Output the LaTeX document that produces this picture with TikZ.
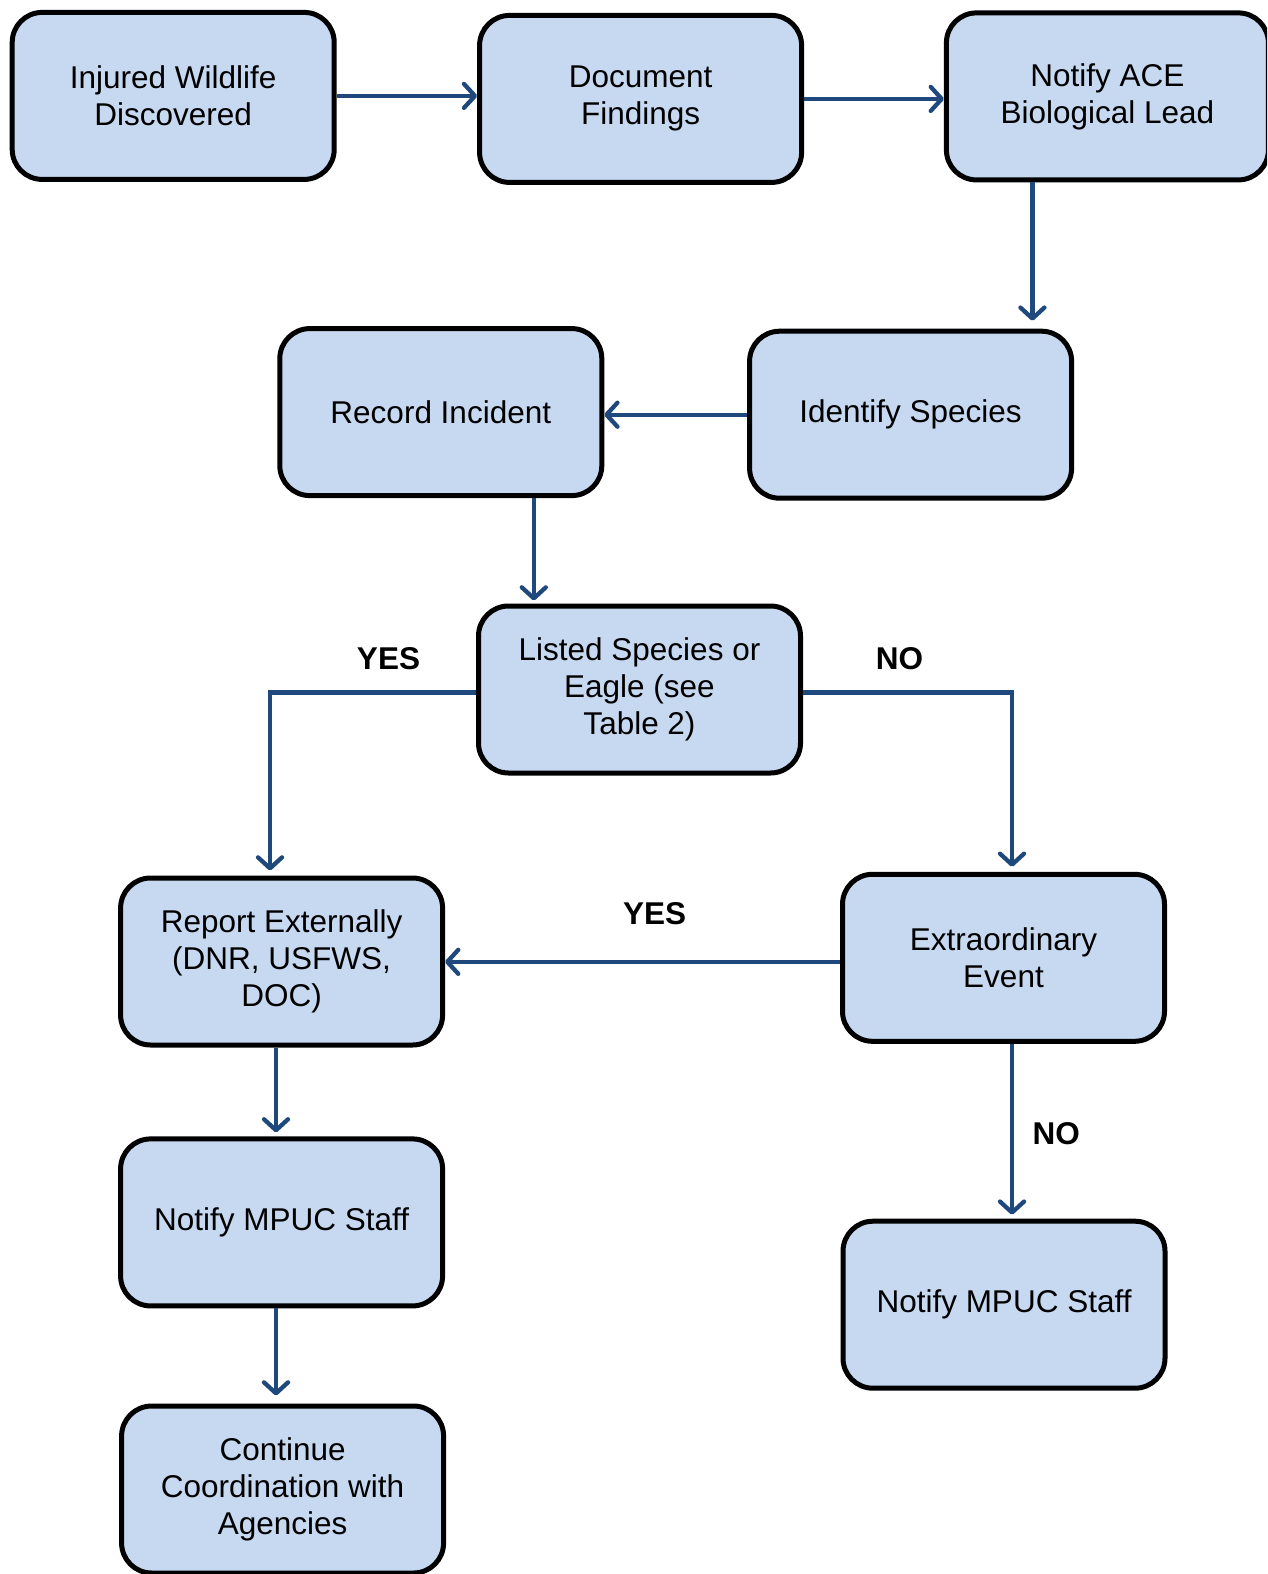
\documentclass[tikz,border=0pt]{standalone}
\usepackage{fontspec}
\setmainfont{Liberation Sans}
\usetikzlibrary{arrows.meta,calc}
\definecolor{boxfill}{HTML}{C6D9F0}
\definecolor{arrblue}{HTML}{1F497D}
\tikzset{
  flowbox/.style={draw=black, line width=5pt, fill=boxfill, rounded corners=30pt,
    minimum width=322pt, minimum height=167pt, align=center, inner sep=2pt,
    font=\fontsize{31.5}{37}\selectfont},
  arr/.style={draw=arrblue, line width=4.3pt,
    -{Straight Barb[length=11pt,width=24pt,line width=4.3pt,round]}},
  lbl/.style={font=\fontsize{31.5}{37}\selectfont\bfseries}
}
\begin{document}
\begin{tikzpicture}[x=1pt,y=-1pt]
\useasboundingbox (0,0) rectangle (1267,1574);
\clip (0,0) rectangle (1267,1574);
\node[flowbox] (b1) at (173.2,95.9) {Injured Wildlife\\Discovered};
\node[flowbox] (b2) at (640.6,98.9) {Document\\Findings};
\node[flowbox] (b3) at (1107.4,96.4) {Notify ACE\\Biological Lead};
\node[flowbox] (b4) at (910.6,414.7) {Identify Species};
\node[flowbox] (b5) at (440.8,412.1) {Record Incident};
\node[flowbox] (b6) at (639.5,689.5) {Listed Species or\\Eagle (see\\Table 2)};
\node[flowbox] (b7) at (281.6,961.5) {Report Externally\\(DNR, USFWS,\\DOC)};
\node[flowbox] (b8) at (1003.5,957.8) {Extraordinary\\Event};
\node[flowbox] (b9) at (281.6,1222.4) {Notify MPUC Staff};
\node[flowbox] (b10) at (282.6,1489.5) {Continue\\Coordination with\\Agencies};
\node[flowbox] (b11) at (1004,1304.7) {Notify MPUC Staff};

\draw[arr] (b1.east) -- (b1.east -| b2.west);
\draw[arr] (b2.east) -- (b2.east -| b3.west);
\draw[arr, shorten >=8pt] ([xshift=-75pt]b3.south) -- ([xshift=-75pt]b3.south |- b4.north);
\draw[arr] (b4.west) -- (b4.west -| b5.east);
\draw[arr, shorten >=3pt] ([xshift=93pt]b5.south) -- ([xshift=93pt]b5.south |- b6.north);
\draw[arr, shorten >=5pt] ([yshift=-3pt]b6.west) -| ([xshift=-11.6pt]b7.north);
\draw[arr, shorten >=5pt] ([yshift=-3pt]b6.east) -| ([xshift=8.5pt]b8.north);
\draw[arr] ([yshift=-4pt]b8.west) -- ([yshift=-4pt]b8.west -| b7.east);
\draw[arr, shorten >=4pt] ([xshift=-5.6pt]b7.south) -- ([xshift=-5.6pt]b7.south |- b9.north);
\draw[arr, shorten >=8pt] ([xshift=-5.6pt]b9.south) -- ([xshift=-5.6pt]b9.south |- b10.north);
\draw[arr, shorten >=4pt] ([xshift=8.5pt]b8.south) -- ([xshift=8.5pt]b8.south |- b11.north);

\node[lbl] (yes1) at (388.5,658.6) {YES};
\node[lbl] (no1) at (899.6,658.6) {NO};
\node[lbl] (yes2) at (654.6,913.6) {YES};
\node[lbl] (no2) at (1056.2,1133.5) {NO};
\end{tikzpicture}
\end{document}
